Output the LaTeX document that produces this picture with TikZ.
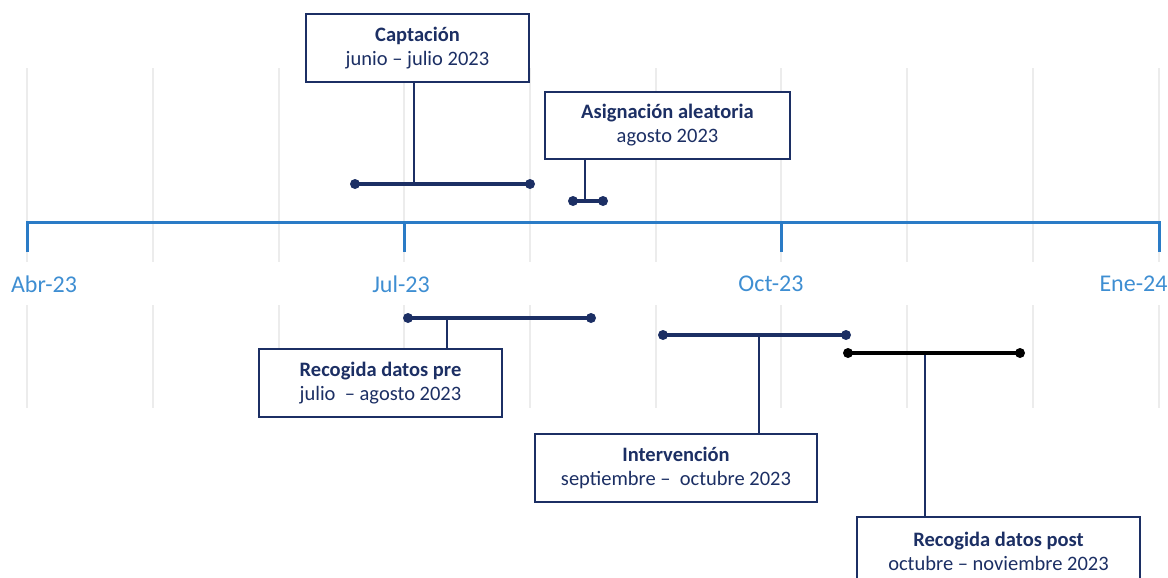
\documentclass[tikz,border=0pt]{standalone}
\usepackage{fontspec}
\setmainfont{Carlito}
\usetikzlibrary{positioning}
\definecolor{navy}{HTML}{1C2F64}
\definecolor{axisblue}{HTML}{2A7BC6}
\definecolor{labelblue}{HTML}{3E8ED2}
\definecolor{gridgray}{HTML}{ECECEC}

\begin{document}
\begin{tikzpicture}[x=1pt,y=-1pt,
  phase/.style={draw=navy,line width=1.6pt,fill=white,text=navy,align=center,inner sep=0pt,
    font=\fontsize{20.5}{24}\selectfont},
  bar/.style={navy,line width=3.5pt},
  stem/.style={navy,line width=1.6pt},
  month/.style={text=labelblue,font=\fontsize{24}{24}\selectfont}]
\useasboundingbox (0,0) rectangle (1168,578);
% grid
\foreach \gx in {27,153,279,404,530,656,781,907,1033,1159}{
  \draw[gridgray,line width=1.2pt] (\gx,68) -- (\gx,262);
  \draw[gridgray,line width=1.2pt] (\gx,305) -- (\gx,408);
}
% axis
\draw[axisblue,line width=3pt] (27,252) -- (27,222) -- (1159,222) -- (1159,252);
\draw[axisblue,line width=3pt] (404,222) -- (404,252);
\draw[axisblue,line width=3pt] (781,222) -- (781,252);
\node[month] (abr) at (44,284) {Abr-23};
\node[month] (jul) at (401,284) {Jul-23};
\node[month] (oct) at (771,284) {Oct-23};
\node[month,anchor=east] (ene) at (1171,284) {Ene-24};

% boxes
\node[phase,minimum width=223pt,minimum height=68pt] (capt) at (417.5,48)
  {\textbf{Captación}\\junio – julio 2023};
\node[phase,minimum width=245pt,minimum height=67pt] (asig) at (667.5,125.5)
  {\textbf{Asignación aleatoria}\\agosto 2023};
\node[phase,minimum width=243pt,minimum height=68pt] (pre) at (380.5,383)
  {\textbf{Recogida datos pre}\\julio\ \ – agosto 2023};
\node[phase,minimum width=282pt,minimum height=68pt] (interv) at (676,468)
  {\textbf{Intervención}\\septiembre –\ \ octubre 2023};
\node[phase,minimum width=283pt,minimum height=68pt] (post) at (998.5,551)
  {\textbf{Recogida datos post}\\octubre – noviembre 2023};

% bars
\coordinate (captL) at (355,184);
\coordinate (captR) at (530,184);
\coordinate (captS) at (414,184);
\coordinate (asigL) at (573,201);
\coordinate (asigR) at (603,201);
\coordinate (asigS) at (585,201);
\coordinate (preL) at (408,318);
\coordinate (preR) at (591,318);
\coordinate (preS) at (447,318);
\coordinate (intL) at (663,335);
\coordinate (intR) at (846,335);
\coordinate (intS) at (759,335);
\coordinate (postL) at (848,353);
\coordinate (postR) at (1020,353);
\coordinate (postS) at (925,353);

\draw[stem] (captS) -- (captS |- capt.south);
\draw[stem] (asigS) -- (asigS |- asig.south);
\draw[stem] (preS) -- (preS |- pre.north);
\draw[stem] (intS) -- (intS |- interv.north);
\draw[stem] (postS) -- (postS |- post.north);

\draw[bar] (captL) -- (captR);
\fill[navy] (captL) circle (5pt) (captR) circle (5pt);
\draw[bar] (asigL) -- (asigR);
\fill[navy] (asigL) circle (5pt) (asigR) circle (5pt);
\draw[bar] (preL) -- (preR);
\fill[navy] (preL) circle (5pt) (preR) circle (5pt);
\draw[bar] (intL) -- (intR);
\fill[navy] (intL) circle (5pt) (intR) circle (5pt);
\draw[bar,black] (postL) -- (postR);
\fill[black] (postL) circle (5pt) (postR) circle (5pt);
\end{tikzpicture}
\end{document}
